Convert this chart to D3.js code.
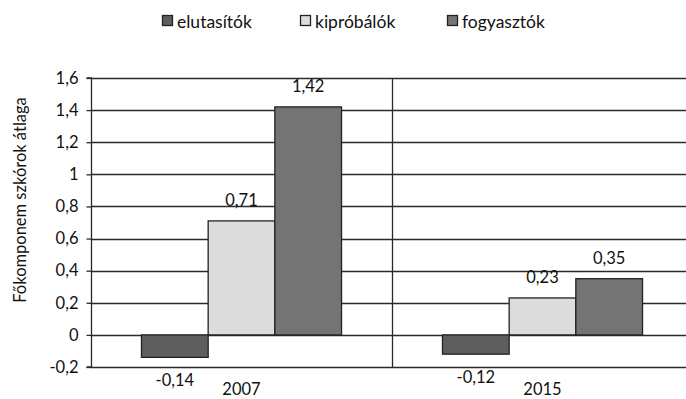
<!DOCTYPE html>
<html><head><meta charset="utf-8">
<script src="https://cdn.jsdelivr.net/npm/d3@7"></script>
<style>body{margin:0;background:#fff}svg{display:block;font-family:Lato,"Open Sans",sans-serif}</style>
</head><body><svg id="c" width="686" height="399"></svg>
<script>
const categories = ["2007", "2015"];
const seriesNames = ["elutasítók", "kipróbálók", "fogyasztók"];
const elutasitok = [-0.14, -0.12];
const kiprobalok = [0.71, 0.23];
const fogyasztok = [1.42, 0.35];
const yTicks = [-0.2, 0, 0.2, 0.4, 0.6, 0.8, 1, 1.2, 1.4, 1.6];
const seriesValues = [elutasitok, kiprobalok, fogyasztok];
const colors = ["#5e5e5e", "#dcdcdc", "#747474"];

(function () {
const svg = d3.select("#c");
const pL = 91, pR = 693, pT = 78, pB = 367;
const fs = 16.5;
const fmt = v => d3.format(".2~f")(v).replace(".", ",").replace("\u2212", "-");

const x = d3.scaleBand().domain(categories).range([pL, pR]).padding(0);
const xs = d3.scaleBand().domain(seriesNames).range([0, x.bandwidth()]).paddingInner(0).paddingOuter(0.757);
const y = d3.scaleLinear().domain([-0.2, 1.6]).range([pB, pT]);

// gridlines
svg.append("g").selectAll("line").data(yTicks).join("line")
  .attr("x1", pL).attr("x2", 686)
  .attr("y1", d => Math.round(y(d)) + 0.5).attr("y2", d => Math.round(y(d)) + 0.5)
  .attr("stroke", "#2a2a2a").attr("stroke-width", 1.3);

// y axis
const yAxis = d3.axisLeft(y).tickValues(yTicks).tickSize(5).tickPadding(8)
  .tickFormat(d => fmt(d));
const ga = svg.append("g").attr("transform", `translate(${pL + 0.5},0)`).call(yAxis);
ga.select(".domain").attr("stroke", "#2a2a2a").attr("stroke-width", 1.3).attr("d", `M-5,${pT}H0V${pB}H-5`);
ga.selectAll(".tick line").attr("stroke", "#2a2a2a").attr("stroke-width", 1.3);
ga.selectAll(".tick text").attr("font-size", fs).attr("fill", "#111").attr("font-family", "Lato, sans-serif");

// category divider
categories.slice(1).forEach(c => {
  svg.append("line").attr("x1", x(c) + 0.5).attr("x2", x(c) + 0.5).attr("y1", pT).attr("y2", pB)
    .attr("stroke", "#2a2a2a").attr("stroke-width", 1.3);
});

// bars
const data = [];
categories.forEach((c, i) => seriesNames.forEach((s, j) => data.push({c, s, j, v: seriesValues[j][i]})));
svg.append("g").selectAll("rect").data(data).join("rect")
  .attr("x", d => x(d.c) + xs(d.s))
  .attr("width", xs.bandwidth())
  .attr("y", d => y(Math.max(0, d.v)))
  .attr("height", d => Math.abs(y(d.v) - y(0)))
  .attr("fill", d => colors[d.j]).attr("stroke", "#222").attr("stroke-width", 1.3);

// value labels
svg.append("g").selectAll("text").data(data).join("text")
  .attr("x", d => x(d.c) + xs(d.s) + xs.bandwidth() / 2)
  .attr("y", d => d.v >= 0 ? y(d.v) - 15 : y(d.v) + 29)
  .attr("text-anchor", "middle").attr("font-size", fs).attr("fill", "#111")
  .text(d => fmt(d.v));

// category labels
svg.append("g").selectAll("text").data(categories).join("text")
  .attr("x", d => x(d) + x.bandwidth() / 2).attr("y", 395)
  .attr("text-anchor", "middle").attr("font-size", fs).attr("fill", "#111").text(d => d);

// y title
svg.append("text").attr("transform", "translate(26,200) rotate(-90)")
  .attr("text-anchor", "middle").attr("font-size", fs).attr("fill", "#111")
  .text("Főkomponem szkórok átlaga");

// legend
const legX = [162, 300, 447];
const lg = svg.append("g").selectAll("g").data(seriesNames).join("g")
  .attr("transform", (d, i) => `translate(${legX[i]},0)`);
lg.append("rect").attr("x", 0.5).attr("y", 15.5).attr("width", 10).attr("height", 10)
  .attr("fill", (d, i) => colors[i]).attr("stroke", "#222").attr("stroke-width", 1.3);
lg.append("text").attr("x", 15).attr("y", 28).attr("font-size", 17.5).attr("fill", "#111").text(d => d);
})();
</script></body></html>
